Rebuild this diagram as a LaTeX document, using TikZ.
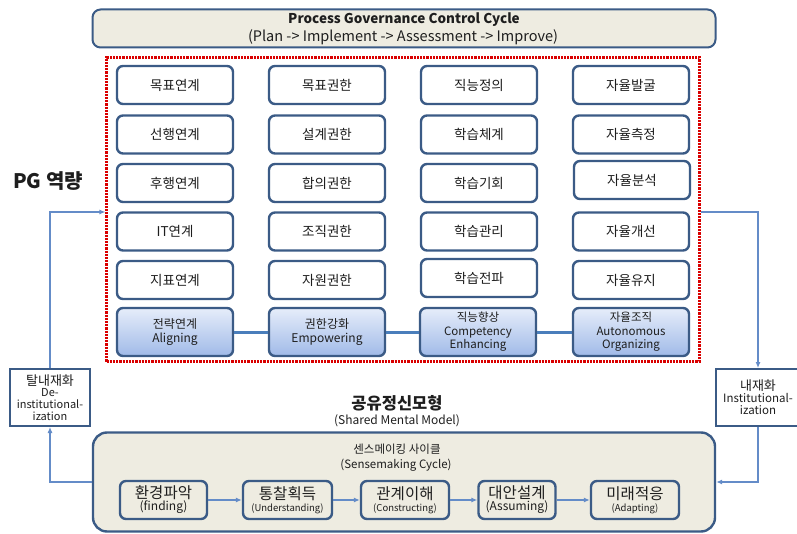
\documentclass[tikz,border=0pt]{standalone}
\usepackage{fontspec}
\setmainfont{Noto Sans CJK KR}
\usetikzlibrary{arrows.meta}
\definecolor{bdr}{RGB}{59,91,134}
\definecolor{beige}{RGB}{238,236,225}
\definecolor{conn}{RGB}{100,140,200}
\definecolor{lnk}{RGB}{74,126,187}
\definecolor{gtop}{RGB}{230,237,250}
\definecolor{gbot}{RGB}{160,186,232}
\definecolor{txt}{RGB}{30,30,30}
\tikzset{
  cell/.style={draw=bdr, line width=2.4pt, rounded corners=6pt, fill=white,
    minimum width=116pt, minimum height=38pt, inner sep=0pt, text=txt,
    font=\fontsize{13.5}{15}\selectfont},
  gcell/.style={cell, top color=gtop, bottom color=gbot, minimum height=48pt,
    align=center, font=\fontsize{12}{14}\selectfont},
  sbox/.style={draw=bdr, line width=2.4pt, rounded corners=6pt, fill=beige,
    minimum height=38pt, inner sep=0pt, align=center, text=txt},
  sidebox/.style={draw=bdr, line width=2pt, fill=white, inner sep=0pt,
    align=center, text=txt},
  arr/.style={draw=conn, line width=1.1pt, -{Latex[length=6pt,width=5pt]}},
  lk/.style={draw=lnk, line width=3pt},
}
\begin{document}
\begin{tikzpicture}[x=1pt,y=-1pt]
\useasboundingbox (0,0) rectangle (797,534);

% top box
\node[draw=bdr, line width=2pt, rounded corners=8pt, fill=beige,
  minimum width=623pt, minimum height=38pt] (pgc) at (404,28.5) {};
\node[font=\bfseries\fontsize{13.5}{15}\selectfont, text=txt] (pgct) at (404,20) {Process Governance Control Cycle};
\node[font=\fontsize{14.5}{15}\selectfont, text=txt] (pgcs) at (403,37.5) {(Plan -> Implement -> Assessment -> Improve)};

% red dotted box
\node[draw=red!85!black, densely dotted, line width=2.2pt, minimum width=593pt,
  minimum height=304pt, inner sep=0pt] (pg) at (403,209.5) {};

\node[font=\bfseries\fontsize{20}{22}\selectfont, text=txt] (pgl) at (48,181) {PG 역량};

% grid
\node[cell] (a1) at (175,85) {목표연계};
\node[cell] (a2) at (175,134.5) {선행연계};
\node[cell] (a3) at (175,183) {후행연계};
\node[cell] (a4) at (175,231.5) {IT연계};
\node[cell] (a5) at (175,280) {지표연계};
\node[gcell] (a6) at (175,332) {전략연계\\Aligning};

\node[cell] (b1) at (327,85) {목표권한};
\node[cell] (b2) at (327,134.5) {설계권한};
\node[cell] (b3) at (327,183) {합의권한};
\node[cell] (b4) at (327,231.5) {조직권한};
\node[cell] (b5) at (327,280) {자원권한};
\node[gcell] (b6) at (327,332) {권한강화\\Empowering};

\node[cell] (c1) at (479,85) {직능정의};
\node[cell] (c2) at (479,134.5) {학습체계};
\node[cell] (c3) at (479,183) {학습기회};
\node[cell] (c4) at (479,231.5) {학습관리};
\node[cell] (c5) at (479,278) {학습전파};
\node[gcell, font=\fontsize{11.5}{13.5}\selectfont] (c6) at (478,332) {직능향상\\Competency\\Enhancing};

\node[cell] (d1) at (631,85) {자율발굴};
\node[cell] (d2) at (631,134.5) {자율측정};
\node[cell] (d3) at (632,180) {자율분석};
\node[cell] (d4) at (631,231.5) {자율개선};
\node[cell] (d5) at (631,280) {자율유지};
\node[gcell, font=\fontsize{11.5}{13.5}\selectfont] (d6) at (631,332) {자율조직\\Autonomous\\Organizing};

\draw[lk] (a6.east) -- (b6.west);
\draw[lk] (b6.east) -- (c6.west);
\draw[lk] (c6.east) -- (d6.west);

% side boxes
\node[sidebox, minimum width=80pt, minimum height=57pt] (detl) at (50,397.5)
  {{\fontsize{13}{14}\selectfont 탈내재화}\\[-1pt]{\fontsize{11}{13}\selectfont De-}\\{\fontsize{11}{13}\selectfont institutional-}\\{\fontsize{11}{13}\selectfont ization}};
\node[sidebox, minimum width=84pt, minimum height=57pt] (inst) at (758,397.5)
  {{\fontsize{13}{15}\selectfont 내재화}\\{\fontsize{11.5}{14}\selectfont Institutional-}\\{\fontsize{11.5}{14}\selectfont ization}};

% shared mental model
\node[font=\bfseries\fontsize{16.5}{18}\selectfont, text=txt] (smm) at (397,403) {공유정신모형};
\node[font=\fontsize{12}{13}\selectfont, text=txt] (smme) at (397,420.5) {(Shared Mental Model)};

% sensemaking box
\node[draw=bdr, line width=2.4pt, rounded corners=14pt, fill=beige,
  minimum width=622pt, minimum height=99pt, inner sep=0pt] (sense) at (404,482) {};
\node[font=\fontsize{11.5}{14}\selectfont, text=txt] (st1) at (397,449) {센스메이킹 사이클};
\node[font=\fontsize{11.5}{14}\selectfont, text=txt] (st2) at (396,465) {(Sensemaking Cycle)};

\node[sbox, minimum width=87pt] (s1) at (163.5,500)
  {{\fontsize{15.5}{17}\selectfont 환경파악}\\{\fontsize{12}{14}\selectfont (finding)}};
\node[sbox, minimum width=89pt] (s2) at (287.5,500)
  {{\fontsize{15.5}{17}\selectfont 통찰획득}\\{\fontsize{9.5}{14}\selectfont (Understanding)}};
\node[sbox, minimum width=88pt] (s3) at (405,500)
  {{\fontsize{15.5}{17}\selectfont 관계이해}\\{\fontsize{9.5}{14}\selectfont (Constructing)}};
\node[sbox, minimum width=77pt] (s4) at (517,500)
  {{\fontsize{15.5}{17}\selectfont 대안설계}\\{\fontsize{12}{14}\selectfont (Assuming)}};
\node[sbox, minimum width=88pt] (s5) at (635,500)
  {{\fontsize{15.5}{17}\selectfont 미래적응}\\{\fontsize{9.5}{14}\selectfont (Adapting)}};

\draw[arr] (s1.east) -- (s2.west);
\draw[arr] (s2.east) -- (s3.west);
\draw[arr] (s3.east) -- (s4.west);
\draw[arr] (s4.east) -- (s5.west);

% cycle connectors
\draw[arr] (sense.west) -| (detl.south);
\draw[arr] (detl.north) |- (pg.west |- 0,212);
\draw[arr] (pg.east |- 0,212) -| (inst.north);
\draw[arr] (inst.south) |- (sense.east);
\end{tikzpicture}
\end{document}
